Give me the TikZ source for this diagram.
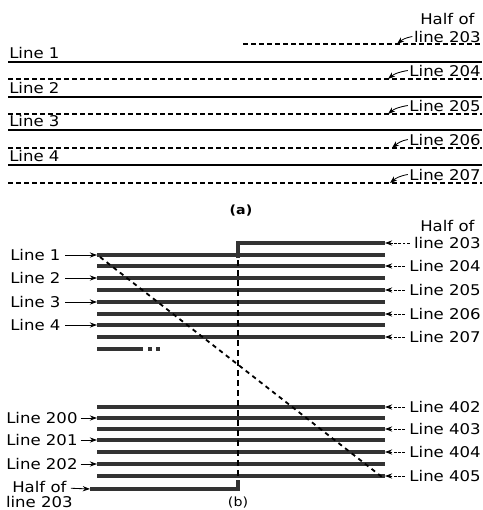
\documentclass[tikz,border=0pt]{standalone}
\usepackage{fontspec}
\newfontfamily\lblfont[FakeStretch=1.12]{DejaVu Sans}
\usetikzlibrary{arrows.meta}
\tikzset{
  wire/.style={line width=1.4pt},
  dashwire/.style={line width=1.5pt, dash pattern=on 1.3mm off 0.7mm},
  band/.style={line width=2.2pt, black!80},
  lbl/.style={font=\lblfont\fontsize{10.5}{12}\selectfont, inner sep=0pt},
  tag/.style={-{Stealth[length=1.8mm,width=1.3mm]}, line width=0.6pt},
  dashtag/.style={tag, dash pattern=on 2pt off 1pt},
}
\begin{document}
\begin{tikzpicture}[x=0.25mm,y=-0.25mm]
\useasboundingbox (0,0) rectangle (482,510);
%%% (a) conductors side by side
\foreach \y[count=\i] in {62,97,130,165}{\draw[wire] (8,\y) -- (482,\y); \node[lbl, anchor=base west] (a\i) at (9,\y-4) {Line \i};};
\foreach \y/\n/\x in {79/204/388,114/205/388,148/206/392,183/207/390}{\draw[dashwire] (8,\y) -- (482,\y); \coordinate (ap\n) at (\x,\y); \node[lbl, anchor=base east] (a\n) at (481,\y-3) {Line \n}; \draw[tag] ([xshift=-1pt]a\n.west) to[out=190,in=40] (ap\n);};
\draw[dashwire] (243,44) -- (482,44);
\coordinate (ap203) at (397,44);
\node[lbl, anchor=base east] (a203) at (481,42) {line 203};
\node[lbl, anchor=base] (ahalf) at (a203.north) [yshift=4pt] {Half of};
\draw[tag] ([xshift=-1pt]a203.west) to[out=190,in=40] (ap203);
\node[lbl, font=\lblfont\bfseries\fontsize{9}{10}\selectfont] (capa) at (241,211) {(a)};
%%% (b) conductors transposed
\foreach \y/\n in {255/1,278/2,302/3,325/4}{\coordinate (s\n) at (97,\y); \draw[band] (s\n) -- (385,\y); \node[lbl, anchor=west] (b\n) at (10,\y) {Line \n}; \draw[tag, shorten <=3pt] (b\n) -- (s\n);};
\foreach \y/\n in {266/204,290/205,314/206,337/207}{\coordinate (e\n) at (385,\y); \draw[band] (97,\y) -- (e\n); \node[lbl, anchor=east] (b\n) at (481,\y) {Line \n}; \draw[dashtag, shorten <=3pt] (b\n) -- (e\n);};
\foreach \y/\n in {418/200,440/201,464/202}{\coordinate (s\n) at (97,\y); \draw[band] (s\n) -- (385,\y); \node[lbl, anchor=west] (b\n) at (6,\y) {Line \n}; \draw[tag, shorten <=2pt] (b\n) -- (s\n);};
\foreach \y/\n in {407/402,429/403,452/404,476/405}{\coordinate (e\n) at (385,\y); \draw[band] (97,\y) -- (e\n); \node[lbl, anchor=east] (b\n) at (481,\y) {Line \n}; \draw[dashtag, shorten <=3pt] (b\n) -- (e\n);};
% half of line 203, top and bottom
\coordinate (t203) at (385,243);
\coordinate (u203) at (90,489);
\draw[band] (238,258) -- (238,243) -- (t203);
\draw[band] (u203) -- (238,489) -- (238,480);
\node[lbl, anchor=east] (b203) at (481,243) {line 203};
\node[lbl, anchor=base] (bhalf) at (b203.north) [yshift=4pt] {Half of};
\draw[dashtag, shorten <=3pt] (b203) -- (t203);
\node[lbl, anchor=west] (chalf) at (12,487) {Half of};
\node[lbl, anchor=north] (c203) at (chalf.south) [yshift=-2pt] {line 203};
\draw[tag, shorten <=3pt] (chalf) -- (u203);
\draw[band] (97,349) -- (143,349);
\draw[band, dash pattern=on 1mm off 1mm] (148,349) -- (163,349);
% transposition dividers
\coordinate (dtop) at (100,257);
\coordinate (dbot) at (382,477);
\draw[line width=1.3pt, dash pattern=on 1.1mm off 1mm] (dtop) -- (dbot);
\draw[line width=1.3pt, dash pattern=on 1.5mm off 1mm] (238,260) -- (238,478);
\node[lbl, font=\lblfont\fontsize{9}{10}\selectfont] (capb) at (238,503) {(b)};
\end{tikzpicture}
\end{document}
